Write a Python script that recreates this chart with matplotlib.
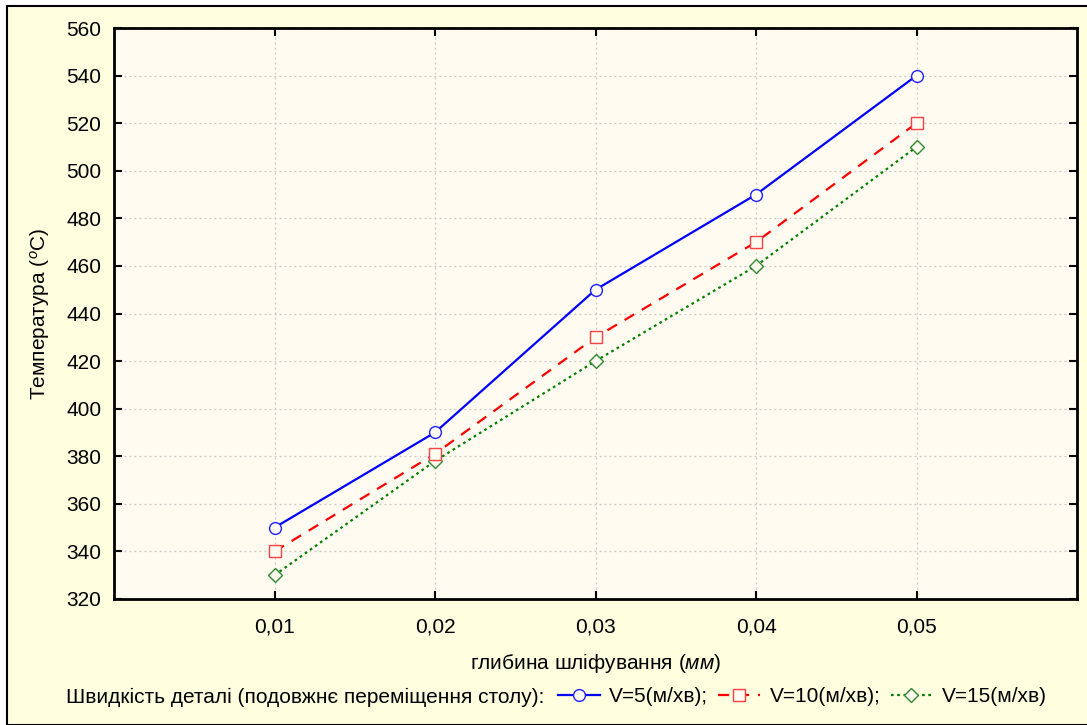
import matplotlib
matplotlib.use("Agg")
import matplotlib.pyplot as plt
from matplotlib.patches import Rectangle

plt.rcParams['font.family'] = ['Liberation Sans', 'DejaVu Sans']
plt.rcParams['mathtext.fontset'] = 'custom'
plt.rcParams['mathtext.rm'] = 'Liberation Sans'
plt.rcParams['mathtext.it'] = 'Liberation Sans:italic'

depth = [0.01, 0.02, 0.03, 0.04, 0.05]
temp_v5 = [350, 390, 450, 490, 540]
temp_v10 = [340, 381, 430, 470, 520]
temp_v15 = [330, 378, 420, 460, 510]
labels = ['V=5(м/хв);', 'V=10(м/хв);', 'V=15(м/хв)']
x_ticks = [0.01, 0.02, 0.03, 0.04, 0.05]
x_tick_labels = ['0,01', '0,02', '0,03', '0,04', '0,05']
y_ticks = list(range(320, 561, 20))

W, H = 1087, 725
fig = plt.figure(figsize=(W / 100, H / 100), dpi=100)
fig.patch.set_facecolor('white')
fig.patches.append(Rectangle((7 / W, 0), 1.2, 1 - 6 / H, transform=fig.transFigure,
                             facecolor='#FFFEDF', edgecolor='black', linewidth=1.5, zorder=-10))

ax = fig.add_axes([114 / W, 1 - 599 / H, (1077 - 114) / W, (599 - 28) / H])
bg = '#FFFBF0'
ax.set_facecolor(bg)

fs = 15
l1, = ax.plot(depth, temp_v5, color='#0000FF', lw=1.6, marker='o', ms=8.5, mfc=bg,
              mec='#2020FF', mew=1.0, zorder=5)
l2, = ax.plot(depth, temp_v10, color='#FF0000', lw=1.6, ls=(0, (5, 4)), marker='s', ms=8.5,
              mfc=bg, mec='#FF4040', mew=1.0, zorder=4)
l3, = ax.plot(depth, temp_v15, color='#008000', lw=1.6, ls=(0, (1.2, 1.6)), marker='D', ms=7.5,
              mfc=bg, mec='#2E8B2E', mew=1.0, zorder=3)

ax.set_xlim(0.0, 0.06)
ax.set_ylim(320, 560)
ax.set_xticks(x_ticks)
ax.set_xticklabels(x_tick_labels)
ax.set_yticks(y_ticks)
ax.tick_params(direction='in', length=6, width=1.5, labelsize=fs, top=True, right=True,
               pad=9, colors='black')
ax.tick_params(axis='x', pad=13)
for s in ax.spines.values():
    s.set_linewidth(2)
ax.grid(True, color='#C8C8C8', ls=(0, (1.5, 2.5)), lw=0.9)
ax.set_axisbelow(True)

ax.set_ylabel('Температура ($^o$C)', fontsize=fs, labelpad=10)
fig.text(595.5 / W, 1 - 663 / H, 'глибина шліфування $\\mathit{(мм)}$', ha='center', va='center',
         fontsize=fs)

fig.text(66 / W, 1 - 697 / H, 'Швидкість деталі (подовжнє переміщення столу):', ha='left',
         va='center', fontsize=fs)
fig.legend([l1, l2, l3], labels, loc='center left', bbox_to_anchor=(558 / W, 1 - 697 / H),
           ncol=3, frameon=False, fontsize=fs, handlelength=2.0, handletextpad=0.45,
           columnspacing=0.5, borderpad=0, borderaxespad=0)

fig.savefig('out.png', dpi=100, facecolor=fig.get_facecolor())
